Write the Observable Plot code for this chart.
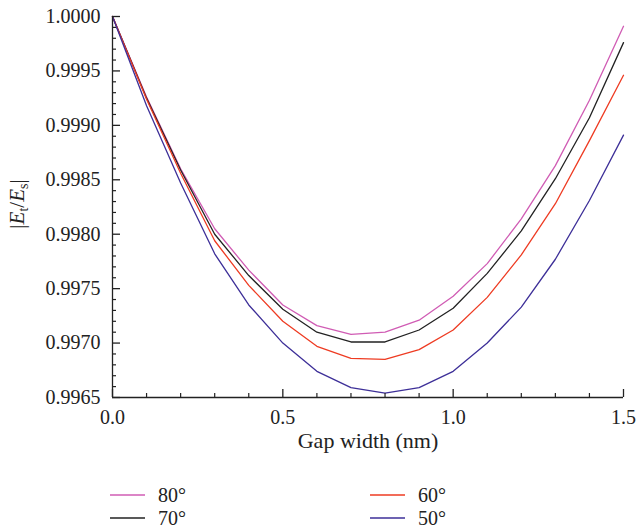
<!DOCTYPE html>
<html>
<head>
<meta charset="utf-8">
<script src="https://cdn.jsdelivr.net/npm/d3@7"></script>
<script src="https://cdn.jsdelivr.net/npm/@observablehq/plot@0.6"></script>
<style>
  body { margin: 0; background: #fff; }
  #wrap { position: relative; width: 636px; height: 531px; font-family: "Liberation Serif", "DejaVu Serif", serif; color: #222; }
  .leg { position: absolute; display: flex; align-items: center; font-size: 20px; }
  .leg svg { margin-right: 13px; }
</style>
</head>
<body>
<div id="wrap"></div>
<script>
const gap = [0, 0.1, 0.2, 0.3, 0.4, 0.5, 0.6, 0.7, 0.8, 0.9, 1.0, 1.1, 1.2, 1.3, 1.4, 1.5];
const s80 = [1.0000, 0.99926, 0.99860, 0.99805, 0.99767, 0.99735, 0.99716, 0.99708, 0.99710, 0.99721, 0.99743, 0.99773, 0.99814, 0.99863, 0.99923, 0.99991];
const s70 = [1.0000, 0.99925, 0.99859, 0.99800, 0.99762, 0.99731, 0.99710, 0.99701, 0.99701, 0.99712, 0.99732, 0.99764, 0.99803, 0.99851, 0.99907, 0.99976];
const s60 = [1.0000, 0.99924, 0.99856, 0.99794, 0.99753, 0.99720, 0.99697, 0.99686, 0.99685, 0.99694, 0.99712, 0.99742, 0.99781, 0.99828, 0.99886, 0.99946];
const s50 = [1.0000, 0.99918, 0.99847, 0.99782, 0.99735, 0.99700, 0.99674, 0.99659, 0.99654, 0.99659, 0.99674, 0.99700, 0.99733, 0.99777, 0.99831, 0.99891];
const seriesNames = ["80°", "70°", "60°", "50°"];
const seriesColors = ["#d05cb4", "#222222", "#ee3b22", "#3d2f98"];
const xMajor = [0, 0.5, 1.0, 1.5];
const xMinor = [0.1, 0.2, 0.3, 0.4, 0.6, 0.7, 0.8, 0.9, 1.1, 1.2, 1.3, 1.4];
const yMajor = [0.9965, 0.9970, 0.9975, 0.9980, 0.9985, 0.9990, 0.9995, 1.0000];
const yMinor = [0.9966, 0.9967, 0.9968, 0.9969, 0.9971, 0.9972, 0.9973, 0.9974, 0.9976, 0.9977, 0.9978, 0.9979,
                0.9981, 0.9982, 0.9983, 0.9984, 0.9986, 0.9987, 0.9988, 0.9989, 0.9991, 0.9992, 0.9993, 0.9994,
                0.9996, 0.9997, 0.9998, 0.9999];

const allSeries = [s80, s70, s60, s50];
const rows = [];
allSeries.forEach((vals, k) => vals.forEach((v, i) => rows.push({gap: gap[i], value: v, series: seriesNames[k]})));

const plot = Plot.plot({
  width: 636,
  height: 460,
  marginLeft: 112,
  marginRight: 13,
  marginTop: 16,
  marginBottom: 63,
  style: {fontFamily: "Liberation Serif, DejaVu Serif, serif", fontSize: "20px", color: "#222", background: "#fff"},
  x: {domain: [0, 1.5]},
  y: {domain: [0.9965, 1.0]},
  color: {domain: seriesNames, range: seriesColors},
  marks: [
    Plot.line(rows, {x: "gap", y: "value", z: "series", stroke: "series", strokeWidth: 1.3}),
    Plot.ruleX([0], {stroke: "#222", strokeWidth: 1.3}),
    Plot.ruleY([0.9965], {stroke: "#222", strokeWidth: 1.3}),
    Plot.axisY(yMajor, {tickSize: -8, tickPadding: 20, tickFormat: d3.format(".4f"), label: null, strokeWidth: 1.3, fontSize: 20}),
    Plot.axisY(yMinor, {tickSize: -4, tickFormat: () => "", label: null, strokeWidth: 1.2}),
    Plot.axisX(xMajor, {tickSize: -8, tickPadding: 20, tickFormat: d3.format(".1f"), label: null, strokeWidth: 1.3, fontSize: 20}),
    Plot.axisX(xMinor, {tickSize: -4, tickFormat: () => "", label: null, strokeWidth: 1.2}),
    Plot.text(["Gap width (nm)"], {frameAnchor: "bottom", dy: 50, fontSize: 22, fill: "#222"})
  ]
});

const svg = d3.select(plot);
const ylab = svg.append("text")
  .attr("transform", "translate(24,204) rotate(-90)")
  .attr("text-anchor", "middle")
  .attr("font-size", 21)
  .attr("fill", "#222")
  .attr("font-family", "Liberation Serif, DejaVu Serif, serif");
ylab.append("tspan").text("|");
ylab.append("tspan").attr("font-style", "italic").text("E");
ylab.append("tspan").attr("font-size", 14).attr("dy", 4).text("t");
ylab.append("tspan").attr("dy", -4).text("/");
ylab.append("tspan").attr("font-style", "italic").text("E");
ylab.append("tspan").attr("font-size", 14).attr("dy", 4).text("s");
ylab.append("tspan").attr("dy", -4).text("|");

const wrap = document.getElementById("wrap");
wrap.appendChild(plot);

const legendPos = [
  {left: 110, top: 483},
  {left: 110, top: 506},
  {left: 370, top: 483},
  {left: 370, top: 506}
];
seriesNames.forEach((name, k) => {
  const d = document.createElement("div");
  d.className = "leg";
  d.style.left = legendPos[k].left + "px";
  d.style.top = legendPos[k].top + "px";
  d.innerHTML = `<svg width="35" height="24"><line x1="0" x2="35" y1="12" y2="12" stroke="${seriesColors[k]}" stroke-width="1.3"/></svg><span>${name}</span>`;
  wrap.appendChild(d);
});
</script>
</body>
</html>
